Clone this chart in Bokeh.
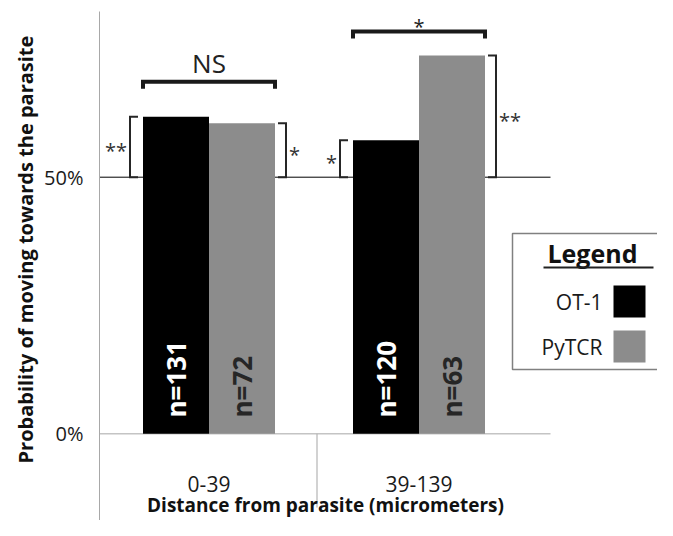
import numpy as np
from bokeh.plotting import figure
from bokeh.models import FixedTicker, Range1d, Title
from bokeh.core.properties import value
from bokeh.embed import file_html
from bokeh.resources import INLINE

# ---------------- data ----------------
categories = ["0-39", "39-139"]
series = ["OT-1", "PyTCR"]
ot1_values = [61.8, 57.2]          # % probability
pytcr_values = [60.5, 73.7]
ot1_n = ["n=131", "n=120"]
pytcr_n = ["n=72", "n=63"]
series_colors = ["#000000", "#8c8c8c"]
n_text_colors = ["#ffffff", "#262626"]
y_ticks = [0, 50]
y_tick_labels = ["0%", "50%"]
reference_level = 50
pair_sig = ["NS", "*"]
pair_bracket_levels = [68.6, 78.4]
ot1_sig = ["**", "*"]
pytcr_sig = ["*", "**"]

# ---------------- layout helpers (canvas pixel -> data) ----------------
PX_X = 210.0                 # pixels per category unit
X0 = 0.5 - 109.5 / PX_X      # data x at the y axis
PX_Y = 5.132                 # pixels per percent
ZERO_PX = 433.3              # canvas y of 0%
FRAME_LEFT, FRAME_TOP = 99, 11
W, H = 657, 520


def ix(px):
    return X0 + (px - FRAME_LEFT) / PX_X


def iy(py):
    return (ZERO_PX - py) / PX_Y


X_END = ix(W)
Y_START = iy(H)
Y_END = iy(FRAME_TOP)
PLOT_AREA_END = ix(550)
FONT = "Open Sans"
IS_STARS = [set(s) == {"*"} for s in pair_sig]

p = figure(width=W, height=H, output_backend="svg", toolbar_location=None,
           x_range=Range1d(X0, X_END), y_range=Range1d(Y_START, Y_END),
           x_axis_location=None, min_border_left=FRAME_LEFT,
           min_border_top=FRAME_TOP, min_border_right=0, min_border_bottom=0)
p.outline_line_color = None
p.xgrid.visible = False
p.ygrid.visible = False
p.background_fill_color = "white"
p.border_fill_color = "white"

ax = p.yaxis[0]
ax.ticker = FixedTicker(ticks=y_ticks)
ax.major_label_overrides = dict(zip(y_ticks, y_tick_labels))
ax.major_tick_out = 0
ax.major_tick_in = 0
ax.minor_tick_out = 0
ax.minor_tick_in = 0
ax.axis_line_color = "#a8a8a8"
ax.major_label_standoff = 16
ax.major_label_text_font = FONT
ax.major_label_text_font_size = "20px"
ax.major_label_text_color = "#1a1a1a"

p.add_layout(Title(text="Probability of moving towards the parasite", align="left",
                   offset=57, text_font=FONT, text_font_style="bold",
                   text_font_size="20px", text_color="#111111", standoff=6), "left")

centers = np.arange(len(categories)) + 0.5
BW = 66.0 / PX_X
ot1_vals = np.array(ot1_values)
py_vals = np.array(pytcr_values)

# reference lines
p.segment(x0=[X0], y0=[0], x1=[PLOT_AREA_END], y1=[0], line_color="#c4c4c4", line_width=1.5)
p.segment(x0=[X0], y0=[reference_level], x1=[PLOT_AREA_END], y1=[reference_level],
          line_color="#000000", line_width=1)
# category separator
p.segment(x0=centers[:-1] + 0.5 + 3 / PX_X, y0=0, x1=centers[:-1] + 0.5 + 3 / PX_X,
          y1=iy(507), line_color="#b4b4b4", line_width=1.2)

# bars
p.vbar(x=centers - BW / 2, top=ot1_vals, bottom=0, width=BW,
       fill_color=series_colors[0], line_color=None)
p.vbar(x=centers + BW / 2, top=py_vals, bottom=0, width=BW,
       fill_color=series_colors[1], line_color=None)

# n labels
p.text(x=np.concatenate([centers - BW / 2, centers + BW / 2]),
       y=[iy(417)] * 4, text=ot1_n + pytcr_n, angle=np.pi / 2,
       text_align="left", text_baseline="middle",
       text_color=[n_text_colors[0]] * 2 + [n_text_colors[1]] * 2,
       text_font=value(FONT), text_font_style="bold", text_font_size="26px")

# category labels + x title
p.text(x=centers, y=[iy(483)] * len(categories), text=categories,
       text_align="center", text_baseline="middle", text_font=value(FONT),
       text_font_size="21px", text_color="#1a1a1a")
p.text(x=[ix(325)], y=[iy(504)], text=["Distance from parasite (micrometers)"],
       text_align="center", text_baseline="middle", text_font=value(FONT),
       text_font_style="bold", text_font_size="19px", text_color="#111111")

# pair brackets
drop = 7 / PX_Y
levels = np.array(pair_bracket_levels)
xs = [[c - BW, c - BW, c + BW, c + BW] for c in centers]
ys = [[l - drop, l, l, l - drop] for l in levels]
p.multi_line(xs=xs, ys=ys, line_color="#1a1a1a", line_width=4, line_join="miter")
p.text(x=centers, y=levels, text=pair_sig, text_align="center", text_baseline="middle",
       y_offset=[-5 if s else -19 for s in IS_STARS],
       text_font=value(FONT), text_font_size=["20px" if s else "26px" for s in IS_STARS],
       text_color="#222222")

# side brackets
tick = 8 / PX_X
ot1_bx = centers - BW - 13 / PX_X
py_bx = centers + BW + 11 / PX_X
side_xs, side_ys = [], []
for bx, v in zip(ot1_bx, ot1_vals):
    side_xs.append([bx + tick, bx, bx, bx + tick])
    side_ys.append([v, v, reference_level, reference_level])
for bx, v in zip(py_bx, py_vals):
    side_xs.append([bx - tick, bx, bx, bx - tick])
    side_ys.append([v, v, reference_level, reference_level])
p.multi_line(xs=side_xs, ys=side_ys, line_color="#262626", line_width=2, line_join="miter")
p.text(x=ot1_bx - 3 / PX_X, y=(ot1_vals + reference_level) / 2, text=ot1_sig,
       text_align="right", text_baseline="middle", y_offset=4,
       text_font=value(FONT), text_font_size="20px", text_color="#333333")
p.text(x=py_bx + 3 / PX_X, y=(py_vals + reference_level) / 2, text=pytcr_sig,
       text_align="left", text_baseline="middle", y_offset=4,
       text_font=value(FONT), text_font_size="20px", text_color="#333333")

# custom legend (labels left, swatches right)
p.quad(left=[ix(512)], right=[ix(720)], top=[iy(233)], bottom=[iy(369)],
       fill_color="white", line_color="#808080", line_width=1.5)
p.text(x=[ix(592)], y=[iy(252)], text=["Legend"], text_align="center",
       text_baseline="middle", text_font=value(FONT), text_font_style="bold",
       text_font_size="25px", text_color="#111111")
p.segment(x0=[ix(543)], y0=[iy(267)], x1=[ix(653)], y1=[iy(267)],
          line_color="#222222", line_width=2)
leg_y_px = np.array([301, 346])
p.text(x=[ix(602)] * len(series), y=iy(leg_y_px), text=series, text_align="right",
       text_baseline="middle", text_font=value(FONT), text_font_size="21px",
       text_color="#1a1a1a")
p.quad(left=[ix(613)] * len(series), right=[ix(645)] * len(series),
       top=iy(leg_y_px - 16), bottom=iy(leg_y_px + 16), fill_color=series_colors,
       line_color=None)

open("out.html", "w").write(file_html(p, INLINE))
